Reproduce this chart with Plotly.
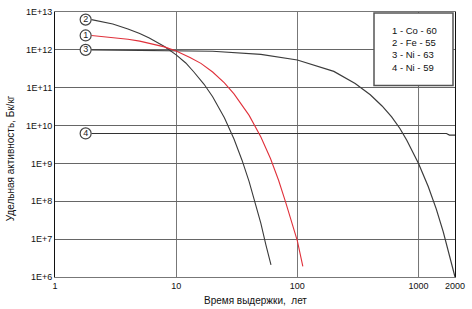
import plotly.graph_objects as go

# ---- data ----
co60_years = [2, 3, 4, 5, 6, 8, 10, 13, 16, 20, 25, 30, 40, 50, 60, 70, 80, 90, 100, 111]
co60_activity = [2.4e12, 2.14e12, 1.9e12, 1.7e12, 1.51e12, 1.2e12, 9.3e11, 6.3e11, 4.4e11,
                 2.6e11, 1.35e11, 6.9e10, 1.86e10, 5.0e9, 1.35e9, 3.6e8, 9.5e7, 2.6e7, 9.0e6, 1.9e6]

fe55_years = [2, 3, 4, 5, 6, 7, 8, 10, 12, 14, 17, 20, 25, 30, 35, 40, 45, 50, 55, 60.6]
fe55_activity = [6.3e12, 4.8e12, 3.55e12, 2.7e12, 2.05e12, 1.58e12, 1.23e12, 7.4e11, 4.5e11,
                 2.6e11, 1.23e11, 5.8e10, 1.6e10, 4.4e9, 1.2e9, 3.3e8, 9.3e7, 2.6e7, 7.1e6, 2.1e6]

ni63_years = [2, 10, 20, 50, 100, 200, 300, 400, 500, 600, 700, 800, 900, 1000,
              1200, 1400, 1600, 1800, 2000]
ni63_activity = [1.0e12, 9.7e11, 9.2e11, 7.6e11, 5.4e11, 2.7e11, 1.3e11, 6.5e10, 3.3e10,
                 1.7e10, 8.5e9, 4.1e9, 2.0e9, 1.0e9, 2.5e8, 6.3e7, 1.55e7, 3.9e6, 1.0e6]

ni59_years = [2, 100, 1000, 1700, 1800, 2000]
ni59_activity = [6.2e9, 6.2e9, 6.2e9, 6.2e9, 5.6e9, 5.6e9]

marker_labels = ["1", "2", "3", "4"]
marker_years = [1.79, 1.79, 1.79, 1.79]
marker_activity = [2.4e12, 6.3e12, 1.0e12, 6.2e9]

legend_lines = ["1 - Co - 60", "2 - Fe - 55", "3 - Ni - 63", "4 - Ni - 59"]

x_tickvals = [1, 10, 100, 1000, 2000]
x_ticktext = ["1", "10", "100", "1000", "2000"]
y_tickvals = [1e6, 1e7, 1e8, 1e9, 1e10, 1e11, 1e12, 1e13]
y_ticktext = ["1E+6", "1E+7", "1E+8", "1E+9", "1E+10", "1E+11", "1E+12", "1E+13"]
dark_grid_years = [1000]

x_title = "Время выдержки,  лет"
y_title = "Удельная активность, Бк/кг"

# ---- figure ----
FONT = "Liberation Sans, Arial, sans-serif"
fig = go.Figure()

fig.add_trace(go.Scatter(x=ni59_years, y=ni59_activity, mode="lines",
                         line=dict(color="#333333", width=1.1), hoverinfo="skip"))
fig.add_trace(go.Scatter(x=ni63_years, y=ni63_activity, mode="lines",
                         line=dict(color="#3c3c3c", width=1.2), hoverinfo="skip"))
fig.add_trace(go.Scatter(x=fe55_years, y=fe55_activity, mode="lines",
                         line=dict(color="#3a3a3a", width=1.1), hoverinfo="skip"))
fig.add_trace(go.Scatter(x=co60_years, y=co60_activity, mode="lines",
                         line=dict(color="#e0303a", width=1.1), hoverinfo="skip"))
fig.add_trace(go.Scatter(x=marker_years, y=marker_activity, mode="markers+text",
                         text=marker_labels, textposition="middle center",
                         textfont=dict(family=FONT, size=9, color="#222"),
                         marker=dict(symbol="circle", size=11, color="white",
                                     line=dict(color="#444", width=1.2)),
                         hoverinfo="skip"))

for yr in dark_grid_years:
    fig.add_shape(type="line", xref="x", yref="paper", x0=yr, x1=yr, y0=0, y1=1,
                  line=dict(color="#111", width=1), layer="below")

# legend box
L, T, W, H = 55, 7, 400, 270
def px(x):
    return (x - L) / W
def py(y):
    return 1 - (y - T) / H

fig.add_shape(type="rect", xref="paper", yref="paper",
              x0=px(374), x1=px(453), y0=py(82), y1=py(8),
              fillcolor="white", line=dict(color="#555", width=1.5), layer="above")
for i, txt in enumerate(legend_lines):
    fig.add_annotation(xref="paper", yref="paper", x=px(390), y=py(26 + i * 12.4),
                       text=txt, showarrow=False, xanchor="left", yanchor="middle",
                       font=dict(family=FONT, size=9.5, color="#111"))

fig.add_annotation(xref="paper", yref="paper", x=px(255), y=py(301), text=x_title,
                   showarrow=False, xanchor="center", yanchor="middle",
                   font=dict(family=FONT, size=10, color="#111"))
fig.add_annotation(xref="paper", yref="paper", x=px(10), y=py(156), text=y_title,
                   showarrow=False, xanchor="center", yanchor="middle", textangle=-90,
                   font=dict(family=FONT, size=10, color="#111"))

fig.update_xaxes(type="log", range=[0, 3.30103], tickvals=x_tickvals, ticktext=x_ticktext,
                 showgrid=True, gridcolor="#777", gridwidth=1,
                 showline=True, linecolor="#777", linewidth=1, mirror=True,
                 ticks="", zeroline=False,
                 tickfont=dict(family=FONT, size=9, color="#111"))
fig.update_yaxes(type="log", range=[6, 13], tickvals=y_tickvals, ticktext=y_ticktext,
                 showgrid=True, gridcolor="#666", gridwidth=1,
                 showline=True, linecolor="#111", linewidth=1, mirror=True,
                 ticks="", zeroline=False,
                 tickfont=dict(family=FONT, size=9, color="#111"))

fig.update_layout(width=472, height=309, margin=dict(l=55, r=17, t=7, b=32),
                  paper_bgcolor="white", plot_bgcolor="white", showlegend=False)

fig.write_html("out.html", config={"displayModeBar": False},
               post_script="document.body.style.margin='0px';document.body.style.padding='0px';")
